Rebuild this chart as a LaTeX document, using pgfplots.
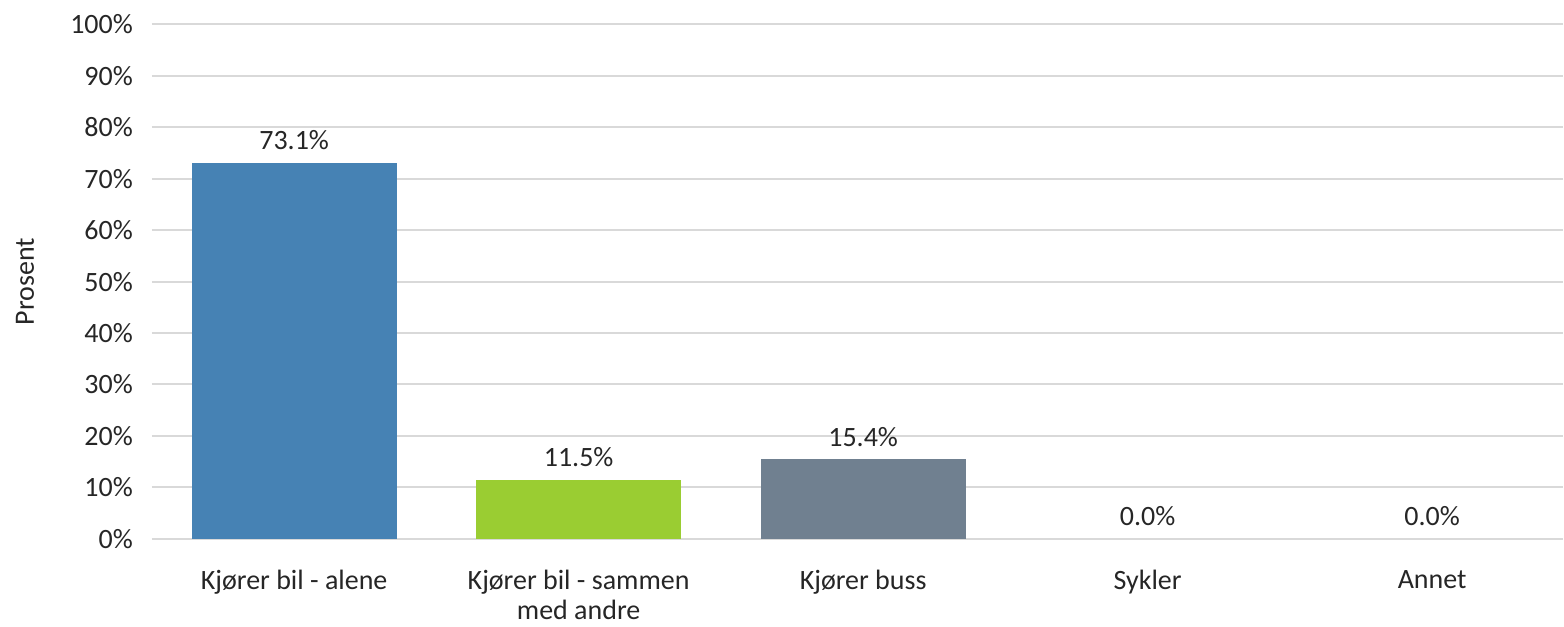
\documentclass[border=0pt]{standalone}
\usepackage{fontspec}
\setmainfont{Carlito}
\usepackage{pgfplots}
\pgfplotsset{compat=1.18}

\definecolor{barblue}{HTML}{4682B4}
\definecolor{bargreen}{HTML}{9ACD32}
\definecolor{bargray}{HTML}{708090}
\definecolor{gridgray}{HTML}{D9D9D9}
\definecolor{txt}{HTML}{262626}

\begin{document}
\begin{tikzpicture}
\begin{axis}[
 width=706pt, height=257.25pt,
 scale only axis,
 ybar, bar width=102.5pt, bar shift=0pt,
 xmin=-0.5, xmax=4.46,
 ymin=0, ymax=100,
 xtick={0,1,2,3,4},
 xticklabels={Kjører bil - alene, {Kjører bil - sammen\\med andre}, Kjører buss, Sykler, Annet},
 ytick={0,10,...,100},
 yticklabel={\pgfmathprintnumber{\tick}\%},
 /pgf/number format/assume math mode=true,
 axis line style={draw=none},
 tick style={draw=none},
 ymajorgrids,
 grid style={draw=gridgray, line width=1pt},
 font=\fontsize{14}{15}\selectfont,
 every tick label/.append style={font=\fontsize{14}{15}\selectfont, text=txt},
 xticklabel style={align=center, yshift=-8pt},
 yticklabel style={xshift=-6pt},
 ylabel={Prosent},
 ylabel style={at={(axis description cs:-0.09,0.5)}, anchor=center, rotate=0, text=txt},
 nodes near coords={\pgfmathprintnumber[fixed,fixed zerofill,precision=1]{\pgfplotspointmeta}\%},
 every node near coord/.append style={text=txt, yshift=3pt},
]
\addplot[fill=barblue, draw=none] coordinates {(0,73.1)};
\addplot[fill=bargreen, draw=none] coordinates {(1,11.5)};
\addplot[fill=bargray, draw=none] coordinates {(2,15.4)};
\addplot[fill=none, draw=none] coordinates {(3,0)};
\addplot[fill=none, draw=none] coordinates {(4,0)};
\end{axis}
\path (current axis.south west) ++(-76pt,-42pt);
\path (current axis.north east) ++(0pt,12.25pt);
\end{tikzpicture}
\end{document}
